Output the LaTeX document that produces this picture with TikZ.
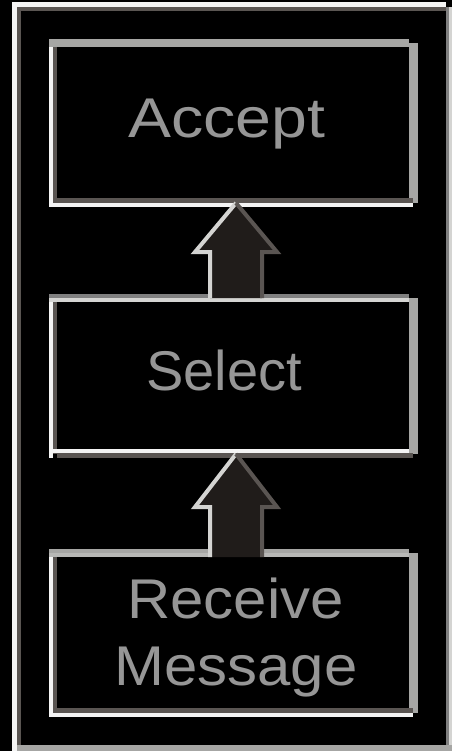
\documentclass[tikz,border=0pt]{standalone}
\usepackage{fontspec}
\setmainfont{Liberation Sans}
\usetikzlibrary{calc}
\definecolor{lite}{HTML}{F4F4F4}
\definecolor{midg}{HTML}{A6A6A4}
\definecolor{paleg}{HTML}{D4D4D2}
\definecolor{darkg}{HTML}{5A5552}
\definecolor{afill}{HTML}{201C1A}
\definecolor{txt}{HTML}{969696}
\newcommand\boxedge[4]{%
  % #1 node name, #2 top upper colour, #3 top lower colour, #4 1 if bottom is dark-then-white
  \fill[midg] ($(#1.north east)+(-9,4)$) rectangle ($(#1.south east)+(0,-4)$);
  \fill[#2] ($(#1.north west)$) rectangle ($(#1.north east)+(-9,4)$);
  \fill[#3] ($(#1.north west)+(0,4)$) rectangle ($(#1.north east)+(-9,8)$);
  \fill[lite] ($(#1.north west)+(0,8)$) rectangle ($(#1.south west)+(4,0)$);
  \fill[darkg] ($(#1.north west)+(4,8)$) rectangle ($(#1.south west)+(8,-4)$);
  \ifnum#4=1
    \fill[darkg] ($(#1.south west)+(4,-9)$) rectangle ($(#1.south east)+(-5,-4)$);
    \fill[lite] ($(#1.south west)+(4,-4)$) rectangle ($(#1.south east)+(-5,0)$);
  \else
    \fill[lite] ($(#1.south west)+(4,-9)$) rectangle ($(#1.south east)+(-9,-5)$);
    \fill[darkg] ($(#1.south west)+(8,-5)$) rectangle ($(#1.south east)+(-5,0)$);
  \fi
}
\newcommand\flowarrow[4]{%
  % #1 lower node, #2 upper node, #3 head height, #4 shaft overlap into lower node
  \coordinate (tip) at ($(#2.south)+(2.5,-4)$);
  \coordinate (bot) at ($(#1.north)+(2.5,#4)$);
  \fill[afill] (tip) -- ($(tip)+(41,#3)$) -- ($(tip)+(26,#3)$) -- ($(bot)+(26,0)$)
    -- ($(bot)+(-26,0)$) -- ($(tip)+(-26,#3)$) -- ($(tip)+(-41,#3)$) -- cycle;
  \draw[paleg, line width=4pt, line join=miter] ($(bot)+(-26,0)$) -- ($(tip)+(-26,#3)$) -- ($(tip)+(-41,#3)$) -- (tip);
  \draw[darkg, line width=4pt, line join=miter] (tip) -- ($(tip)+(41,#3)$) -- ($(tip)+(26,#3)$) -- ($(bot)+(26,0)$);
}
\begin{document}
\begin{tikzpicture}[x=1pt,y=-1pt,
  boxnode/.style={rectangle, inner sep=0pt, outer sep=0pt, minimum width=369pt},
  word/.style={font=\fontsize{56}{67}\selectfont, text=txt, anchor=base, inner sep=0pt}]
\fill[black] (0,0) rectangle (452,751);
\useasboundingbox (0,0) rectangle (452,751);
% outer frame
\fill[lite] (12,2) rectangle (446,7);
\fill[lite] (12,2) rectangle (17,751);
\fill[darkg] (17,7) rectangle (450,11);
\fill[darkg] (17,7) rectangle (21,751);
\fill[gray] (446,7) rectangle (449,751);
\fill[paleg] (449,7) rectangle (452,751);
\fill[midg] (17,745) rectangle (452,751);
% boxes
\node[boxnode, minimum height=168pt] (accept) at (233.5,123) {};
\node[boxnode, minimum height=164pt] (select) at (233.5,376) {};
\node[boxnode, minimum height=168pt] (receive) at (233.5,633) {};
\boxedge{accept}{midg}{midg}{1}
\boxedge{select}{gray}{paleg}{0}
\boxedge{receive}{midg}{midg!80!white}{1}
% texts
\node[word] (tA) at (227,138) {\scalebox{1.15}[1]{Accept}};
\node[word] (tS) at (224,390) {Select};
\node[word] (tR) at (235.5,618) {\scalebox{1.07}[1]{Receive}};
\node[word] (tM) at (236,685) {\scalebox{1.07}[1]{Message}};
% arrows
\flowarrow{select}{accept}{49}{4}
\flowarrow{receive}{select}{53}{8}
\end{tikzpicture}
\end{document}
